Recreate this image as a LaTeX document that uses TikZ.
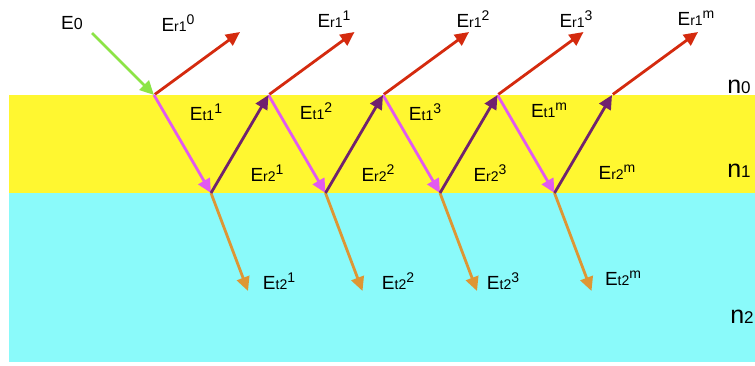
\documentclass[tikz,border=0pt]{standalone}
\usepackage{fontspec}
\setmainfont{Liberation Sans}
\usetikzlibrary{arrows.meta,calc}
\definecolor{ylw}{RGB}{255,247,48}
\definecolor{cyn}{RGB}{138,250,250}
\definecolor{grn}{RGB}{140,228,70}
\definecolor{redr}{RGB}{212,42,14}
\definecolor{pnk}{RGB}{226,90,240}
\definecolor{prp}{RGB}{112,34,110}
\definecolor{org}{RGB}{222,150,52}
\newcommand{\fld}[2]{E{\fontsize{14}{14}\selectfont #1}\raisebox{7pt}{\fontsize{14}{14}\selectfont #2}}
\begin{document}
\begin{tikzpicture}[x=1pt,y=-1pt,
  ray/.style={line width=2.8pt,-{Triangle[length=14pt,width=13pt]}},
  lbl/.style={font=\fontsize{19}{19}\selectfont,inner sep=0pt},
  idx/.style={font=\fontsize{25}{25}\selectfont,inner sep=0pt}]
\useasboundingbox (0,0) rectangle (755,365);
\fill[white] (0,0) rectangle (755,365);
\fill[ylw] (9,95) rectangle (755,193);
\fill[cyn] (9,193) rectangle (755,362);
% points
\coordinate (t0) at (154,95);
\coordinate (t1) at (268.5,95);
\coordinate (t2) at (383,95);
\coordinate (t3) at (497.5,95);
\coordinate (t4) at (612,95);
\coordinate (b1) at (211,193);
\coordinate (b2) at (325.5,193);
\coordinate (b3) at (440,193);
\coordinate (b4) at (554.5,193);
\coordinate (src) at (92,33);
\foreach \i in {0,...,4} { \coordinate (r\i) at ($(t\i)+(86,-63)$); }
\foreach \i in {1,...,4} { \coordinate (o\i) at ($(b\i)+(37,98)$); }
% rays
\draw[ray,grn] (src) -- (t0);
\foreach \i in {0,...,4} { \draw[ray,redr,shorten <=1pt] (t\i) -- (r\i); }
\draw[ray,pnk] (t0) -- (b1);
\draw[ray,pnk] (t1) -- (b2);
\draw[ray,pnk] (t2) -- (b3);
\draw[ray,pnk] (t3) -- (b4);
\foreach \i in {1,...,4} { \draw[ray,org] (b\i) -- (o\i); }
\draw[ray,prp] (b1) -- (t1);
\draw[ray,prp] (b2) -- (t2);
\draw[ray,prp] (b3) -- (t3);
\draw[ray,prp] (b4) -- (t4);
% labels
\node[lbl] (le0) at (72,23) {E{\fontsize{16}{16}\selectfont 0}};
\node[lbl] (lr0) at (178,23) {\fld{r1}{0}};
\node[lbl] (lr1) at (334,19) {\fld{r1}{1}};
\node[lbl] (lr2) at (473,19) {\fld{r1}{2}};
\node[lbl] (lr3) at (576,19) {\fld{r1}{3}};
\node[lbl] (lrm) at (696,18) {\fld{r1}{m}};
\node[lbl] (lt1) at (206,112) {\fld{t1}{1}};
\node[lbl] (lt2) at (316,111) {\fld{t1}{2}};
\node[lbl] (lt3) at (425,112) {\fld{t1}{3}};
\node[lbl] (ltm) at (549,110) {\fld{t1}{m}};
\node[lbl] (ls1) at (267,173) {\fld{r2}{1}};
\node[lbl] (ls2) at (378,173) {\fld{r2}{2}};
\node[lbl] (ls3) at (490,173) {\fld{r2}{3}};
\node[lbl] (lsm) at (617,172) {\fld{r2}{m}};
\node[lbl] (lu1) at (279,281) {\fld{t2}{1}};
\node[lbl] (lu2) at (398,281) {\fld{t2}{2}};
\node[lbl] (lu3) at (503,281) {\fld{t2}{3}};
\node[lbl] (lum) at (623,278) {\fld{t2}{m}};
\node[idx] (n0) at (739,87) {n{\fontsize{17}{17}\selectfont 0}};
\node[idx] (n1) at (739,171) {n{\fontsize{17}{17}\selectfont 1}};
\node[idx] (n2) at (742,317) {n{\fontsize{17}{17}\selectfont 2}};
\end{tikzpicture}
\end{document}
